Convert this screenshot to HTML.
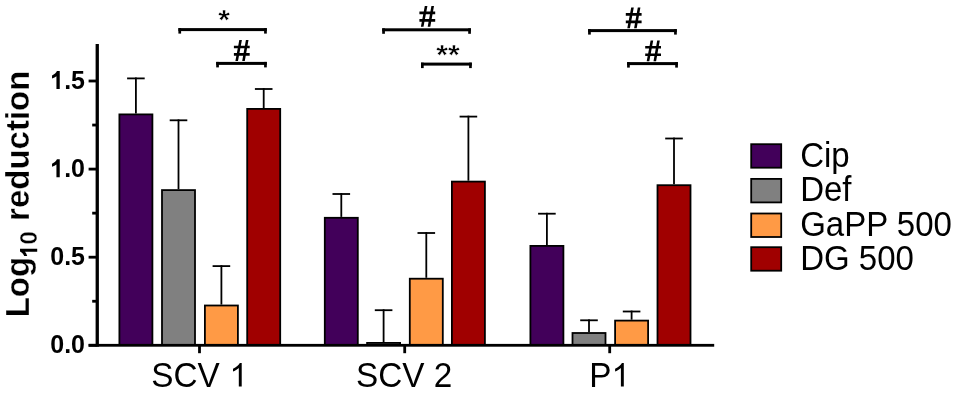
<!DOCTYPE html>
<html><head><meta charset="utf-8"><style>
html,body{margin:0;padding:0;background:#fff;}
body{width:957px;height:393px;overflow:hidden;}
svg{display:block;will-change:transform;}
text{font-family:"Liberation Sans",sans-serif;fill:#000;}
.tk{font-size:25px;font-weight:bold;}
.xl{font-size:33.3px;}
.lt{font-size:33px;}
.yl{font-size:33px;font-weight:bold;stroke:#fff;stroke-width:0.3px;}
.sg{font-size:30px;font-weight:bold;text-anchor:middle;stroke:#fff;stroke-width:0.5px;}
</style></head><body>
<svg width="957" height="393" viewBox="0 0 957 393">
<rect x="118.50" y="113.50" width="34.80" height="231.80" fill="#000"/>
<rect x="120.30" y="115.30" width="31.20" height="230.00" fill="#42005a"/>
<rect x="135.00" y="77.50" width="1.80" height="36.00" fill="#000"/>
<rect x="127.10" y="77.50" width="17.60" height="1.80" fill="#000"/>
<rect x="161.10" y="189.20" width="34.80" height="156.10" fill="#000"/>
<rect x="162.90" y="191.00" width="31.20" height="154.30" fill="#808080"/>
<rect x="177.60" y="119.40" width="1.80" height="69.80" fill="#000"/>
<rect x="169.70" y="119.40" width="17.60" height="1.80" fill="#000"/>
<rect x="204.00" y="304.60" width="34.80" height="40.70" fill="#000"/>
<rect x="205.80" y="306.40" width="31.20" height="38.90" fill="#ff9a45"/>
<rect x="220.50" y="265.20" width="1.80" height="39.40" fill="#000"/>
<rect x="212.60" y="265.20" width="17.60" height="1.80" fill="#000"/>
<rect x="246.30" y="108.00" width="34.80" height="237.30" fill="#000"/>
<rect x="248.10" y="109.80" width="31.20" height="235.50" fill="#a00000"/>
<rect x="262.80" y="88.10" width="1.80" height="19.90" fill="#000"/>
<rect x="254.90" y="88.10" width="17.60" height="1.80" fill="#000"/>
<rect x="323.90" y="216.90" width="34.80" height="128.40" fill="#000"/>
<rect x="325.70" y="218.70" width="31.20" height="126.60" fill="#42005a"/>
<rect x="340.40" y="193.10" width="1.80" height="23.80" fill="#000"/>
<rect x="332.50" y="193.10" width="17.60" height="1.80" fill="#000"/>
<rect x="366.20" y="342.00" width="34.80" height="3.30" fill="#000"/>
<rect x="368.00" y="343.80" width="31.20" height="1.50" fill="#808080"/>
<rect x="382.70" y="309.30" width="1.80" height="32.70" fill="#000"/>
<rect x="374.80" y="309.30" width="17.60" height="1.80" fill="#000"/>
<rect x="408.90" y="277.80" width="34.80" height="67.50" fill="#000"/>
<rect x="410.70" y="279.60" width="31.20" height="65.70" fill="#ff9a45"/>
<rect x="425.40" y="232.10" width="1.80" height="45.70" fill="#000"/>
<rect x="417.50" y="232.10" width="17.60" height="1.80" fill="#000"/>
<rect x="451.00" y="180.70" width="34.80" height="164.60" fill="#000"/>
<rect x="452.80" y="182.50" width="31.20" height="162.80" fill="#a00000"/>
<rect x="467.50" y="115.70" width="1.80" height="65.00" fill="#000"/>
<rect x="459.60" y="115.70" width="17.60" height="1.80" fill="#000"/>
<rect x="529.50" y="245.00" width="34.80" height="100.30" fill="#000"/>
<rect x="531.30" y="246.80" width="31.20" height="98.50" fill="#42005a"/>
<rect x="546.00" y="212.80" width="1.80" height="32.20" fill="#000"/>
<rect x="538.10" y="212.80" width="17.60" height="1.80" fill="#000"/>
<rect x="571.60" y="332.10" width="34.80" height="13.20" fill="#000"/>
<rect x="573.40" y="333.90" width="31.20" height="11.40" fill="#808080"/>
<rect x="588.10" y="319.40" width="1.80" height="12.70" fill="#000"/>
<rect x="580.20" y="319.40" width="17.60" height="1.80" fill="#000"/>
<rect x="614.20" y="319.70" width="34.80" height="25.60" fill="#000"/>
<rect x="616.00" y="321.50" width="31.20" height="23.80" fill="#ff9a45"/>
<rect x="630.70" y="310.60" width="1.80" height="9.10" fill="#000"/>
<rect x="622.80" y="310.60" width="17.60" height="1.80" fill="#000"/>
<rect x="656.60" y="184.30" width="34.80" height="161.00" fill="#000"/>
<rect x="658.40" y="186.10" width="31.20" height="159.20" fill="#a00000"/>
<rect x="673.10" y="137.60" width="1.80" height="46.70" fill="#000"/>
<rect x="665.20" y="137.60" width="17.60" height="1.80" fill="#000"/>
<rect x="95.60" y="44.00" width="3.30" height="302.70" fill="#000"/>
<rect x="88.60" y="343.90" width="625.60" height="2.80" fill="#000"/>
<rect x="88.60" y="343.90" width="8.00" height="2.80" fill="#000"/>
<rect x="88.60" y="255.80" width="8.00" height="2.80" fill="#000"/>
<rect x="88.60" y="167.70" width="8.00" height="2.80" fill="#000"/>
<rect x="88.60" y="79.60" width="8.00" height="2.80" fill="#000"/>
<rect x="92.20" y="299.85" width="4.00" height="2.80" fill="#000"/>
<rect x="92.20" y="211.75" width="4.00" height="2.80" fill="#000"/>
<rect x="92.20" y="123.65" width="4.00" height="2.80" fill="#000"/>
<rect x="198.10" y="345.30" width="2.80" height="7.90" fill="#000"/>
<rect x="403.30" y="345.30" width="2.80" height="7.90" fill="#000"/>
<rect x="608.30" y="345.30" width="2.80" height="7.90" fill="#000"/>
<rect x="178.40" y="28.10" width="88.40" height="3.00" fill="#000"/>
<rect x="178.40" y="28.10" width="2.70" height="5.50" fill="#000"/>
<rect x="264.10" y="28.10" width="2.70" height="5.50" fill="#000"/>
<rect x="216.20" y="61.90" width="50.60" height="3.00" fill="#000"/>
<rect x="216.20" y="61.90" width="2.70" height="5.50" fill="#000"/>
<rect x="264.10" y="61.90" width="2.70" height="5.50" fill="#000"/>
<rect x="382.20" y="28.30" width="88.70" height="3.00" fill="#000"/>
<rect x="382.20" y="28.30" width="2.70" height="5.50" fill="#000"/>
<rect x="468.20" y="28.30" width="2.70" height="5.50" fill="#000"/>
<rect x="421.00" y="62.60" width="50.80" height="3.00" fill="#000"/>
<rect x="421.00" y="62.60" width="2.70" height="5.50" fill="#000"/>
<rect x="469.10" y="62.60" width="2.70" height="5.50" fill="#000"/>
<rect x="588.10" y="29.10" width="88.70" height="3.00" fill="#000"/>
<rect x="588.10" y="29.10" width="2.70" height="5.50" fill="#000"/>
<rect x="674.10" y="29.10" width="2.70" height="5.50" fill="#000"/>
<rect x="627.10" y="62.10" width="50.80" height="3.00" fill="#000"/>
<rect x="627.10" y="62.10" width="2.70" height="5.50" fill="#000"/>
<rect x="675.20" y="62.10" width="2.70" height="5.50" fill="#000"/>
<g transform="translate(0,353.3) scale(1,1.0) translate(0,-353.3)"><text class="tk" x="50.25" y="353.3">0.0</text></g>
<g transform="translate(0,265.3) scale(1,1.0) translate(0,-265.3)"><text class="tk" x="50.25" y="265.3">0.5</text></g>
<g transform="translate(0,177.2) scale(1,1.0) translate(0,-177.2)"><text class="tk" x="64.15" y="177.2">.0</text></g><path transform="translate(50.25,177.20) scale(0.01221,-0.01221)" d="M777 0L507 0L507 1040Q367 920 146 850L146 1110Q287 1160 397 1260Q507 1360 547 1466L777 1466Z"/>
<g transform="translate(0,89.0) scale(1,1.0) translate(0,-89.0)"><text class="tk" x="64.15" y="89.0">.5</text></g><path transform="translate(50.25,89.00) scale(0.01221,-0.01221)" d="M777 0L507 0L507 1040Q367 920 146 850L146 1110Q287 1160 397 1260Q507 1360 547 1466L777 1466Z"/>
<g transform="translate(0,386.6) scale(1,1.03) translate(0,-386.6)"><text class="xl" x="151.2" y="386.6">SCV </text></g><path transform="translate(229.42,386.60) scale(0.01611,-0.01611)" d="M763 0L583 0L583 1147Q518 1085 412 1023Q306 961 223 930L223 1104Q374 1175 487 1276Q600 1377 647 1466L763 1466Z"/>
<g transform="translate(0,386.6) scale(1,1.03) translate(0,-386.6)"><text class="xl" x="356.1" y="386.6">SCV 2</text></g>
<g transform="translate(0,386.6) scale(1,1.03) translate(0,-386.6)"><text class="xl" x="589.3" y="386.6">P</text></g><path transform="translate(611.51,386.60) scale(0.01611,-0.01611)" d="M763 0L583 0L583 1147Q518 1085 412 1023Q306 961 223 930L223 1104Q374 1175 487 1276Q600 1377 647 1466L763 1466Z"/>
<g transform="translate(28.8,317.3) rotate(-90)"><text class="yl" x="0" y="0">Log<tspan font-size="24" dx="12.34" dy="8.4">0</tspan><tspan dx="1" dy="-8.4"> reduction</tspan></text><path transform="translate(59.49,8.40) scale(0.01172,-0.01172)" d="M777 0L507 0L507 1040Q367 920 146 850L146 1110Q287 1160 397 1260Q507 1360 547 1466L777 1466Z"/></g>
<g transform="translate(0,29.1) scale(1,0.92) translate(0,-29.1)"><text class="sg" x="224" y="29.1">*</text></g>
<path transform="translate(233.9,40.1)" d="M1.5 20.8L4.1 20.8L8.0 0L5.4 0ZM8.3 20.8L10.9 20.8L14.6 0L12.0 0ZM0 5.6V8.2H15.8V5.6ZM0 13.0V15.7H15.8V13.0Z"/>
<path transform="translate(419.4,6.0)" d="M1.5 20.8L4.1 20.8L8.0 0L5.4 0ZM8.3 20.8L10.9 20.8L14.6 0L12.0 0ZM0 5.6V8.2H15.8V5.6ZM0 13.0V15.7H15.8V13.0Z"/>
<path transform="translate(625.8,7.5)" d="M1.5 20.8L4.1 20.8L8.0 0L5.4 0ZM8.3 20.8L10.9 20.8L14.6 0L12.0 0ZM0 5.6V8.2H15.8V5.6ZM0 13.0V15.7H15.8V13.0Z"/>
<path transform="translate(645.2,40.4)" d="M1.5 20.8L4.1 20.8L8.0 0L5.4 0ZM8.3 20.8L10.9 20.8L14.6 0L12.0 0ZM0 5.6V8.2H15.8V5.6ZM0 13.0V15.7H15.8V13.0Z"/>
<g transform="translate(0,64.1) scale(1,0.92) translate(0,-64.1)"><text class="sg" x="448" y="64.1">**</text></g>
<rect x="750.3" y="143.3" width="31.8" height="25.3" fill="#000"/>
<rect x="752.0999999999999" y="145.10000000000002" width="28.2" height="21.7" fill="#42005a"/>
<g transform="translate(0,167.2) scale(1,1.04) translate(0,-167.2)"><text x="800.2" y="167.2" class="lt">Cip</text></g>
<rect x="750.3" y="178.0" width="31.8" height="25.3" fill="#000"/>
<rect x="752.0999999999999" y="179.8" width="28.2" height="21.7" fill="#808080"/>
<g transform="translate(0,201.4) scale(1,1.04) translate(0,-201.4)"><text x="800.2" y="201.4" class="lt">Def</text></g>
<rect x="750.3" y="212.6" width="31.8" height="25.3" fill="#000"/>
<rect x="752.0999999999999" y="214.4" width="28.2" height="21.7" fill="#ff9a45"/>
<g transform="translate(0,236.5) scale(1,1.04) translate(0,-236.5)"><text x="800.2" y="236.5" class="lt">GaPP 500</text></g>
<rect x="750.3" y="246.3" width="31.8" height="25.3" fill="#000"/>
<rect x="752.0999999999999" y="248.10000000000002" width="28.2" height="21.7" fill="#a00000"/>
<g transform="translate(0,270.0) scale(1,1.04) translate(0,-270.0)"><text x="800.2" y="270.0" class="lt">DG 500</text></g>
</svg>
</body></html>
